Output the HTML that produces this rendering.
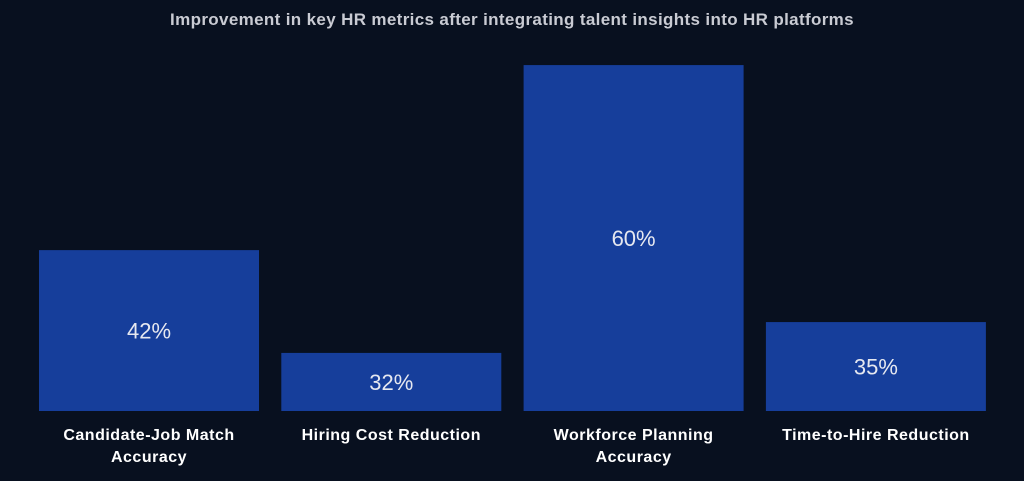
<!DOCTYPE html>
<html><head><meta charset="utf-8"><style>
body{margin:0;background:#08101f;}
svg{display:block;font-family:"Liberation Sans",sans-serif;}
</style></head><body>
<svg id="c" width="1024" height="481">
<rect width="1024" height="481" fill="#08101f"/>
<text x="512" y="25" text-anchor="middle" font-size="17" letter-spacing="0.35" font-weight="bold" fill="#c9cbd3">Improvement in key HR metrics after integrating talent insights into HR platforms</text>
</svg>
<script>
const categories=[["Candidate-Job Match","Accuracy"],["Hiring Cost Reduction"],["Workforce Planning","Accuracy"],["Time-to-Hire Reduction"]];
const values=[42,32,60,35];
const valueLabels=["42%","32%","60%","35%"];
const svg=document.getElementById('c');
const NS='http://www.w3.org/2000/svg';
const yMin=26.35,base=411,pxPer=10.28;
function y(v){return base-(v-yMin)*pxPer;}
function x(i){return 39+i*242.3;}
const bw=220;
values.forEach((v,i)=>{
 const r=document.createElementNS(NS,'rect');
 r.setAttribute('x',x(i));r.setAttribute('y',y(v));r.setAttribute('width',bw);r.setAttribute('height',base-y(v));r.setAttribute('fill','#163e9b');
 
 
 svg.appendChild(r);
 const t=document.createElementNS(NS,'text');
 t.setAttribute('x',x(i)+bw/2);t.setAttribute('y',(y(v)+base)/2+8);t.setAttribute('text-anchor','middle');t.setAttribute('font-size','22');t.setAttribute('fill','#e6e8f0');
 t.textContent=valueLabels[i];
 
 
 svg.appendChild(t);
 categories[i].forEach((line,j)=>{
  const l=document.createElementNS(NS,'text');
  l.setAttribute('x',x(i)+bw/2);l.setAttribute('y',440+j*22);l.setAttribute('text-anchor','middle');l.setAttribute('font-size','16');l.setAttribute('letter-spacing','0.5');l.setAttribute('font-weight','bold');l.setAttribute('fill','#ffffff');
  l.textContent=line;
  
  
  svg.appendChild(l);
 });
});
</script>
</body></html>
